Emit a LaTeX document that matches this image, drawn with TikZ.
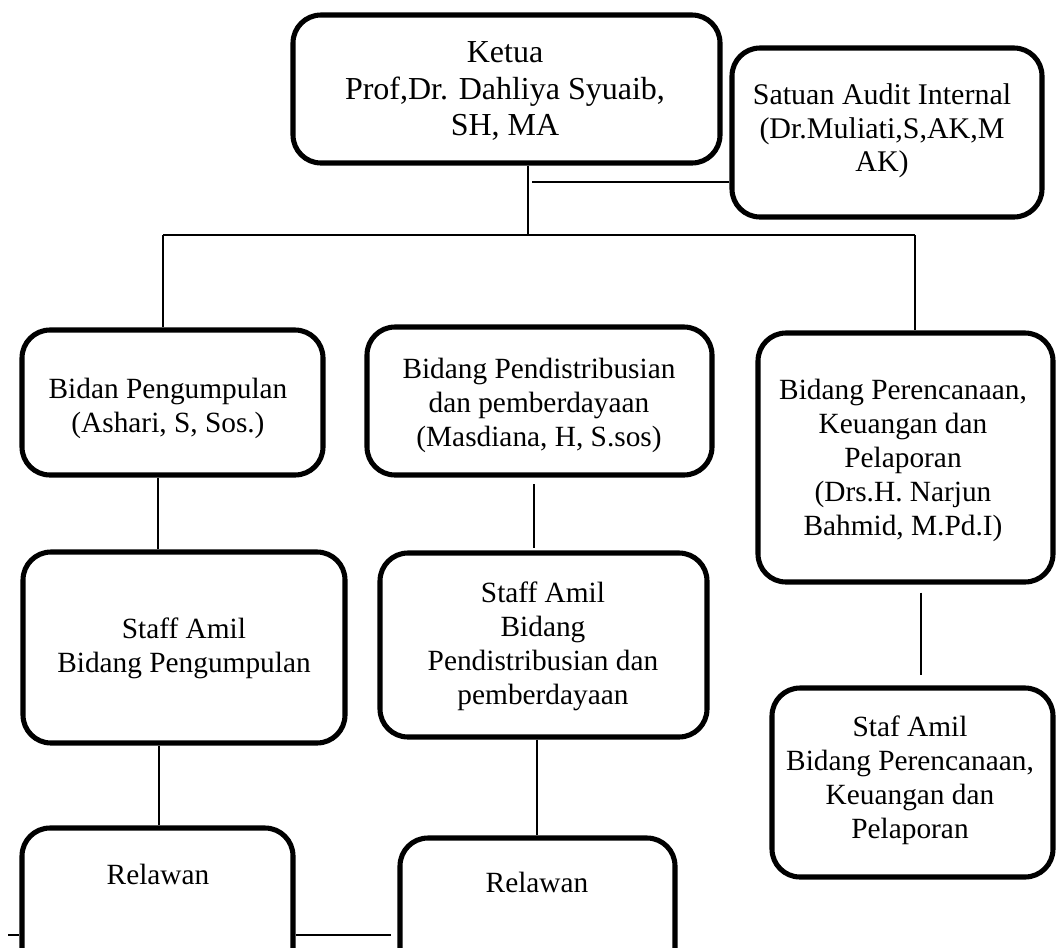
\documentclass[tikz,border=0pt]{standalone}
\usepackage{fontspec}
\setmainfont{Liberation Serif}
\begin{document}
\begin{tikzpicture}[x=0.75pt,y=-0.75pt,
  box/.style={draw,line width=3.8pt,rounded corners=21pt,fill=white,inner sep=0pt},
  txt/.style={align=center,font=\fontsize{22}{25.5}\selectfont,inner sep=0pt},
  bigtxt/.style={align=center,font=\fontsize{24}{27.5}\selectfont,inner sep=0pt},
  conn/.style={line width=1.4pt}]
\useasboundingbox (0,0) rectangle (1057,947);
\clip (0,0) rectangle (1057,947);
% boxes
\node[box,minimum width=320.25pt,minimum height=111pt]    (ketua) at (506.5,89) {};
\node[box,minimum width=232.5pt,minimum height=126.75pt]  (audit) at (887,132.5) {};
\node[box,minimum width=225.75pt,minimum height=108.75pt] (peng)  at (172.5,402.5) {};
\node[box,minimum width=258.75pt,minimum height=111pt]    (dist)  at (539.5,401) {};
\node[box,minimum width=221.25pt,minimum height=186.75pt] (renc)  at (905.5,457.5) {};
\node[box,minimum width=241.5pt,minimum height=143.25pt]  (spA)   at (184,647.5) {};
\node[box,minimum width=245.25pt,minimum height=138pt]    (spB)   at (543.5,645) {};
\node[box,minimum width=210.75pt,minimum height=141.75pt] (spC)   at (912.5,782.5) {};
\node[box,minimum width=203.25pt,minimum height=129pt]    (relA)  at (157.5,914) {};
\node[box,minimum width=206.25pt,minimum height=129pt]    (relB)  at (537.5,924) {};
% texts
\node[bigtxt] (ketua-t) at (505,91) {Ketua\\Prof,Dr. Dahliya Syuaib,\\SH, MA};
\node[txt,font=\fontsize{22.5}{25}\selectfont] (audit-t) at (882,131) {Satuan Audit Internal\\(Dr.Muliati,S,AK,M\\AK)};
\node[txt] (peng-t) at (168,408) {Bidan Pengumpulan\\(Ashari, S, Sos.)};
\node[txt] (dist-t) at (539,405) {Bidang Pendistribusian\\dan pemberdayaan\\(Masdiana, H, S.sos)};
\node[txt] (renc-t) at (903,460) {Bidang Perencanaan,\\Keuangan dan\\Pelaporan\\(Drs.H. Narjun\\Bahmid, M.Pd.I)};
\node[txt] (spA-t) at (184,648) {Staff Amil\\Bidang Pengumpulan};
\node[txt] (spB-t) at (543,646) {Staff Amil\\Bidang\\Pendistribusian dan\\pemberdayaan};
\node[txt] (spC-t) at (910,780) {Staf Amil\\Bidang Perencanaan,\\Keuangan dan\\Pelaporan};
\node[txt] (relA-t) at (158,874) {Relawan};
\node[txt] (relB-t) at (537,882) {Relawan};
% junction coordinates
\coordinate (j)  at (528,235);
\coordinate (jl) at (163,235);
\coordinate (jr) at (915,235);
\coordinate (a)  at (532,182);
\coordinate (xA) at (158,0);
\coordinate (xA2) at (159,0);
\coordinate (xB) at (534,0);
\coordinate (xB2) at (537,0);
\coordinate (xC) at (921,0);
\coordinate (b0) at (8,935);
% connectors
\draw[conn] (ketua.south -| j) -- (j);
\draw[conn] (a) -- (a -| audit.west);
\draw[conn] (jl) -- (jr);
\draw[conn] (jl) -- (jl |- peng.north);
\draw[conn] (jr) -- (jr |- renc.north);
\draw[conn] (peng.south -| xA) -- (spA.north -| xA);
\draw[conn] (spA.south -| xA2) -- (relA.north -| xA2);
\draw[conn,shorten <=5pt,shorten >=2pt] (dist.south -| xB) -- (spB.north -| xB);
\draw[conn] (spB.south -| xB2) -- (relB.north -| xB2);
\draw[conn,shorten <=6pt,shorten >=8pt] (renc.south -| xC) -- (spC.north -| xC);
\draw[conn] (b0) -- (b0 -| relA.west);
\draw[conn,shorten >=5pt] (relA.east |- b0) -- (b0 -| relB.west);
\end{tikzpicture}
\end{document}
